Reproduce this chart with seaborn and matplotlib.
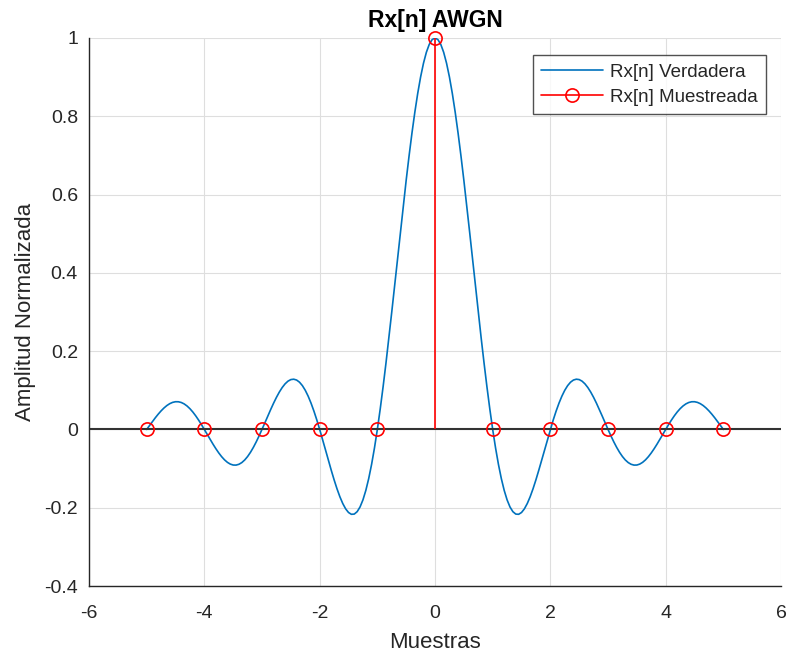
import numpy as np
import pandas as pd
import matplotlib
matplotlib.use("Agg")
import matplotlib.pyplot as plt
import seaborn as sns

# Autocorrelation of band-limited white noise, lags 0..5 in steps of 0.05
lag_step = 0.05
rx_half = [
    1.0, 0.99589, 0.98363, 0.96340, 0.93549, 0.90032, 0.85839, 0.81033, 0.75683, 0.69865,
    0.63662, 0.57162, 0.50455, 0.43633, 0.36788, 0.30011, 0.23387, 0.17001, 0.10929, 0.05242,
    0.0, -0.04742, -0.08942, -0.12566, -0.15592, -0.18006, -0.19809, -0.21009, -0.21624, -0.21682,
    -0.21221, -0.20283, -0.18921, -0.17189, -0.15148, -0.12862, -0.10394, -0.07811, -0.05177, -0.02554,
    0.0, 0.02429, 0.04684, 0.06721, 0.08504, 0.10004, 0.11196, 0.12069, 0.12614, 0.12832,
    0.12732, 0.12329, 0.11643, 0.10703, 0.09538, 0.08185, 0.06682, 0.05071, 0.03392, 0.01688,
    0.0, -0.01633, -0.03173, -0.04588, -0.05847, -0.06925, -0.07804, -0.08466, -0.08904, -0.09113,
    -0.09095, -0.08856, -0.08409, -0.07770, -0.06960, -0.06002, -0.04924, -0.03754, -0.02522, -0.01261,
    0.0, 0.01229, 0.02399, 0.03482, 0.04455, 0.05296, 0.05989, 0.06520, 0.06880, 0.07065,
    0.07074, 0.06910, 0.06581, 0.06099, 0.05479, 0.04738, 0.03898, 0.02980, 0.02007, 0.01006,
    0.0,
]

# Sampled autocorrelation at integer lags
n_lags = [-5, -4, -3, -2, -1, 0, 1, 2, 3, 4, 5]
rx_sampled = [0, 0, 0, 0, 0, 1, 0, 0, 0, 0, 0]

x_ticks = [-6, -4, -2, 0, 2, 4, 6]
y_ticks = [-0.4, -0.2, 0, 0.2, 0.4, 0.6, 0.8, 1]
y_tick_labels = ["-0.4", "-0.2", "0", "0.2", "0.4", "0.6", "0.8", "1"]

# mirror the half curve to negative lags (even function)
x_half = [round(i * lag_step, 2) for i in range(len(rx_half))]
x_true = [-v for v in x_half[:0:-1]] + x_half
rx_true = rx_half[:0:-1] + rx_half
df_true = pd.DataFrame({"lag": x_true, "rx": rx_true})

sns.set_style("white")
plt.rcParams["font.family"] = ["Liberation Sans", "DejaVu Sans"]

fig = plt.figure(figsize=(7.89, 6.56), dpi=100)
ax = fig.add_axes([0.1128, 0.1067, 0.8771, 0.8354])

blue = "#0072BD"
red = "#FF0000"
axc = "#262626"

sns.lineplot(data=df_true, x="lag", y="rx", ax=ax, color=blue, lw=1.2,
             label="Rx[n] Verdadera", sort=False, estimator=None)

# stem plot: baseline, stems and open circles
ax.axhline(0, color="#333333", lw=1.5, zorder=2)
ax.vlines(n_lags, 0, rx_sampled, color=red, lw=1.2, zorder=3)
ax.plot(n_lags, rx_sampled, ls="none", marker="o", ms=9.5, mfc="none",
        mec=red, mew=1.2, zorder=4, clip_on=False)
ax.plot([], [], color=red, lw=1.2, marker="o", ms=9.5, mfc="none",
        mec=red, mew=1.2, label="Rx[n] Muestreada")

ax.set_xlim(-6, 6)
ax.set_ylim(-0.4, 1)
ax.set_xticks(x_ticks)
ax.set_yticks(y_ticks)
ax.set_xticklabels([str(t) for t in x_ticks])
ax.set_yticklabels(y_tick_labels)
ax.grid(True, color="#dedede", lw=0.8)
ax.set_axisbelow(True)

for s in ["top", "right"]:
    ax.spines[s].set_visible(False)
for s in ["left", "bottom"]:
    ax.spines[s].set_color(axc)
    ax.spines[s].set_linewidth(1.0)

ax.tick_params(direction="in", length=5, width=0.8, colors=axc, labelsize=14,
               labelcolor=axc, pad=8)
ax.tick_params(axis="x", pad=14)

ax.set_xlabel("Muestras", fontsize=16, color=axc, labelpad=7)
ax.set_ylabel("Amplitud Normalizada", fontsize=16, color=axc, labelpad=6)
ax.set_title("Rx[n] AWGN", fontsize=16.5, fontweight="bold", color="black", pad=8)

leg = ax.legend(loc="upper right", bbox_to_anchor=(0.978, 0.969), fontsize=13.5,
                frameon=True, fancybox=False, handlelength=3.3, borderpad=0.45,
                labelspacing=0.42, handletextpad=0.35, borderaxespad=0)
leg.get_frame().set_edgecolor(axc)
leg.get_frame().set_linewidth(1.0)
for t in leg.get_texts():
    t.set_color(axc)

fig.savefig("out.png", dpi=100)
